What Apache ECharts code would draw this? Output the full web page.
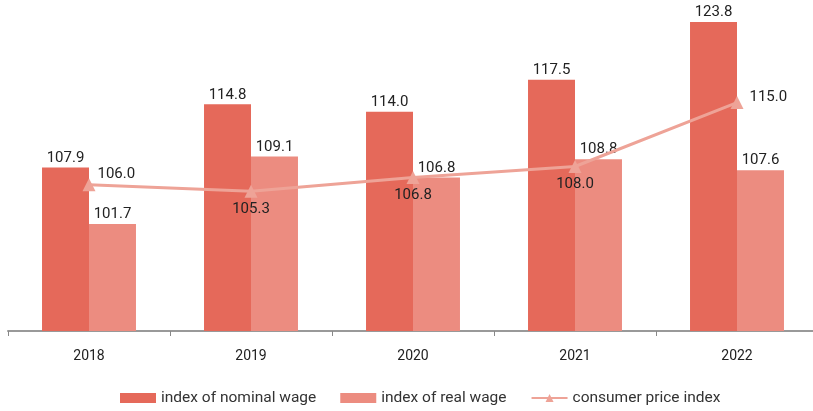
<!DOCTYPE html>
<html>
<head>
<meta charset="utf-8">
<script src="https://cdn.jsdelivr.net/npm/echarts@6/dist/echarts.min.js"></script>
<style>
html, body { margin: 0; padding: 0; background: #fff; }
#chart { width: 813px; height: 411px; }
</style>
</head>
<body>
<div id="chart"></div>
<script>
const years = ['2018', '2019', '2020', '2021', '2022'];
const nominalWage = [107.9, 114.8, 114.0, 117.5, 123.8];
const realWage = [101.7, 109.1, 106.8, 108.8, 107.6];
const cpi = [106.0, 105.3, 106.8, 108.0, 115.0];
const cpiLabelPos = ['right', 'bottom', 'bottom', 'bottom', 'right'];
const cpiLabelOffset = [[-2, -11], [0, 0], [0, 0], [0, 0], [2, -5]];

const colors = {
    nominal: '#e5695a',
    real: '#ec8c80',
    line: '#eea397',
    text: '#222',
    axis: '#999'
};

const chart = echarts.init(document.getElementById('chart'));

const labelStyle = {
    show: true,
    position: 'top',
    distance: 2,
    color: colors.text,
    fontFamily: 'Roboto',
    fontSize: 15,
    formatter: p => p.value.toFixed(1)
};

chart.setOption({
    animation: false,
    grid: { left: 8, width: 810, top: 2, bottom: 80, outerBoundsMode: 'none', containLabel: false },
    legend: {
        top: 385,
        left: 115,
        itemWidth: 36,
        itemHeight: 10,
        itemGap: 24,
        textStyle: { fontFamily: 'Roboto', fontSize: 15.5, color: '#333' },
        data: [
            { name: 'index of nominal wage', icon: 'rect' },
            { name: 'index of real wage', icon: 'rect' },
            { name: 'consumer price index' }
        ]
    },
    xAxis: {
        type: 'category',
        data: years,
        axisLine: { lineStyle: { color: colors.axis, width: 2 } },
        axisTick: { show: true, length: 5, lineStyle: { color: '#888' } },
        axisLabel: { color: colors.text, fontFamily: 'Roboto', fontSize: 14, margin: 18 }
    },
    yAxis: {
        type: 'value',
        min: 90,
        max: 126,
        show: false,
        splitLine: { show: false }
    },
    series: [
        {
            name: 'index of nominal wage',
            type: 'bar',
            data: nominalWage,
            barGap: '0%',
            barCategoryGap: '42%',
            itemStyle: { color: colors.nominal },
            label: labelStyle
        },
        {
            name: 'index of real wage',
            type: 'bar',
            data: realWage,
            itemStyle: { color: colors.real },
            label: labelStyle
        },
        {
            name: 'consumer price index',
            type: 'line',
            data: cpi.map((v, i) => ({
                value: v,
                label: {
                    position: cpiLabelPos[i],
                    offset: cpiLabelOffset[i],
                    distance: 4
                }
            })),
            symbol: 'triangle',
            symbolSize: 13,
            lineStyle: { color: colors.line, width: 3 },
            itemStyle: { color: colors.line },
            label: {
                show: true,
                color: colors.text,
                fontFamily: 'Roboto',
                fontSize: 15,
                formatter: p => p.value.toFixed(1)
            },
            z: 5
        }
    ]
});
</script>
</body>
</html>
